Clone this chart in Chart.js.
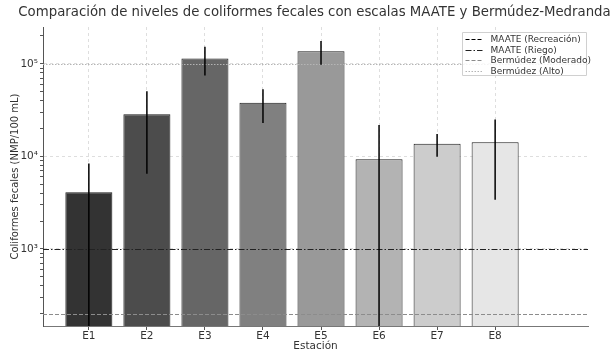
<!DOCTYPE html>
<html>
<head>
<meta charset="utf-8">
<script src="https://cdn.jsdelivr.net/npm/chart.js@4.4.0/dist/chart.umd.min.js"></script>
<style>
  body { margin: 0; background: #fff; }
  #wrap { width: 613px; height: 351px; }
</style>
</head>
<body>
<div id="wrap"><canvas id="chart"></canvas></div>
<script>
// data
const stations = ["E1", "E2", "E3", "E4", "E5", "E6", "E7", "E8"];
const means = [4100, 28500, 114000, 38000, 137000, 9300, 13700, 14200];
const errors = [4300, 22000, 39000, 15000, 39000, 12500, 3800, 10800];
const barColors = ["#333333", "#4c4c4c", "#666666", "#808080", "#999999", "#b3b3b3", "#cccccc", "#e6e6e6"];

// reference thresholds
const refNames = ["MAATE (Recreación)", "MAATE (Riego)", "Bermúdez (Moderado)", "Bermúdez (Alto)"];
const refValues = [200, 1000, 200, 100000];
const refColors = ["#000000", "#222222", "#8c8c8c", "#b5b5b5"];
const refDash = [[4, 2], [6, 2, 1.5, 2], [4, 2], [1.5, 1.5]];

const TITLE = "Comparación de niveles de coliformes fecales con escalas MAATE y Bermúdez-Medranda";
const FONT = "DejaVu Sans";
const sup = { 3: "³", 4: "⁴", 5: "⁵" };

const extras = {
  id: "extras",
  afterDraw(chart) {
    const ctx = chart.ctx;
    const area = chart.chartArea;
    const x = chart.scales.x;
    const y = chart.scales.y;

    ctx.save();
    ctx.beginPath();
    ctx.rect(area.left, area.top, area.right - area.left, area.bottom - area.top);
    ctx.clip();

    // threshold lines
    refValues.forEach((v, i) => {
      const py = Math.round(y.getPixelForValue(v)) + 0.5;
      ctx.strokeStyle = refColors[i];
      ctx.lineWidth = 1;
      ctx.setLineDash(refDash[i]);
      ctx.beginPath();
      ctx.moveTo(area.left, py);
      ctx.lineTo(area.right, py);
      ctx.stroke();
    });

    // error bars
    ctx.setLineDash([]);
    ctx.strokeStyle = "#000";
    ctx.lineWidth = 1.5;
    means.forEach((m, i) => {
      const px = x.getPixelForValue(i);
      const lo = m - errors[i];
      const yLo = lo > 0 ? y.getPixelForValue(lo) : area.bottom + 5;
      const yHi = y.getPixelForValue(m + errors[i]);
      ctx.beginPath();
      ctx.moveTo(px, yLo);
      ctx.lineTo(px, yHi);
      ctx.stroke();
    });
    ctx.restore();

    // title, centred on the plot area
    ctx.save();
    ctx.fillStyle = "#333";
    ctx.font = "13.3px '" + FONT + "'";
    ctx.textAlign = "center";
    ctx.textBaseline = "middle";
    ctx.fillText(TITLE, (area.left + area.right) / 2 - 1, 13);
    ctx.restore();

    // legend box
    ctx.save();
    const bx = 462.5, by = 32.5, bw = 124, bh = 43;
    ctx.fillStyle = "rgba(255,255,255,0.85)";
    ctx.strokeStyle = "#d0d0d0";
    ctx.lineWidth = 1;
    ctx.beginPath();
    ctx.rect(bx, by, bw, bh);
    ctx.fill();
    ctx.stroke();
    ctx.font = "9px '" + FONT + "'";
    ctx.textBaseline = "middle";
    refNames.forEach((name, i) => {
      const ly = Math.round(by + 6.5 + i * 10.5) + 0.5;
      ctx.strokeStyle = refColors[i];
      ctx.setLineDash(refDash[i]);
      ctx.beginPath();
      ctx.moveTo(bx + 3, ly);
      ctx.lineTo(bx + 20, ly);
      ctx.stroke();
      ctx.fillStyle = "#333";
      ctx.fillText(name, bx + 28, ly);
    });
    ctx.restore();
  }
};

new Chart(document.getElementById("chart"), {
  type: "bar",
  data: {
    datasets: [{
      data: means.map((m, i) => ({ x: i, y: m })),
      backgroundColor: barColors,
      borderColor: "#1a1a1a",
      borderWidth: 1,
      barPercentage: 0.81,
      categoryPercentage: 1
    }]
  },
  options: {
    responsive: true,
    maintainAspectRatio: false,
    animation: false,
    layout: { padding: { left: 0, right: 25, top: 27, bottom: 0 } },
    plugins: {
      legend: { display: false },
      tooltip: { enabled: false },
      title: { display: false }
    },
    scales: {
      x: {
        type: "linear",
        offset: false,
        min: -0.79,
        max: 8.6,
        z: 1,
        afterBuildTicks: (s) => { s.ticks = stations.map((c, i) => ({ value: i })); },
        afterFit: (s) => { s.height = 25; },
        ticks: {
          color: "#333",
          font: { family: FONT, size: 10.5 },
          padding: 0,
          callback: (v) => stations[v]
        },
        grid: { offset: false, color: "rgba(0,0,0,0.13)", tickColor: "#555", tickLength: 4 },
        border: { display: true, color: "#777", width: 1, dash: [3, 3] },
        title: {
          display: true,
          text: "Estación",
          color: "#333",
          font: { family: FONT, size: 10.5 },
          padding: { top: 0, bottom: -2 }
        }
      },
      y: {
        type: "logarithmic",
        min: 147,
        max: 250000,
        z: 1,
        afterBuildTicks: (s) => {
          const t = [];
          for (let e = 2; e <= 5; e++) {
            for (let k = 1; k <= 9; k++) {
              const v = k * Math.pow(10, e);
              if (v >= 147 && v <= 250000) t.push({ value: v });
            }
          }
          s.ticks = t;
        },
        afterFit: (s) => { s.width = 43; },
        ticks: {
          autoSkip: false,
          color: "#333",
          font: { family: FONT, size: 10.5 },
          padding: 2,
          callback: (v) => {
            const e = Math.log10(v);
            return Math.abs(e - Math.round(e)) < 1e-9 ? "10" + sup[Math.round(e)] : "";
          }
        },
        grid: {
          color: (c) => {
            const e = Math.log10(c.tick.value);
            return Math.abs(e - Math.round(e)) < 1e-9 ? "rgba(0,0,0,0.13)" : "rgba(0,0,0,0)";
          },
          tickColor: "#555",
          tickLength: 3
        },
        border: { display: true, color: "#555", width: 1, dash: [3, 3] },
        title: {
          display: true,
          text: "Coliformes fecales (NMP/100 mL)",
          color: "#333",
          font: { family: FONT, size: 10 },
          padding: { top: 9, bottom: 0 }
        }
      }
    }
  },
  plugins: [extras]
});
</script>
</body>
</html>
